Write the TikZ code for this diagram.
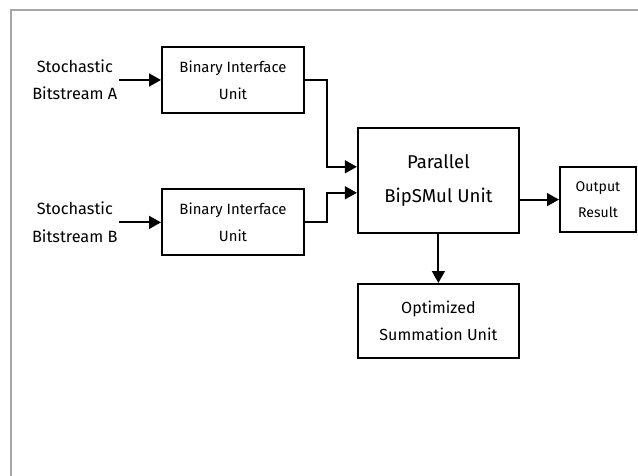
\documentclass[tikz,border=0pt]{standalone}
\usepackage{fontspec}
\setmainfont{Fira Sans}
\usetikzlibrary{arrows.meta,positioning}

\begin{document}
\begin{tikzpicture}[
  box/.style={draw, line width=1.4pt, align=center, font=\fontsize{10.6}{19}\selectfont, inner sep=2pt},
  arr/.style={-{Triangle[length=3mm,width=3.2mm]}, line width=1.4pt}, src/.style={align=center, font=\fontsize{11.6}{19.5}\selectfont, inner sep=1pt}]
\useasboundingbox (0,0) rectangle (15.95,-11.9);
\draw[gray!70, line width=1pt] (15.95,-0.25) -- (0.275,-0.25) -- (0.275,-11.9);
\node[box, minimum width=3.55cm, minimum height=1.65cm] (biuA) at (5.825,-2.0) {Binary Interface\\Unit};
\node[box, minimum width=3.55cm, minimum height=1.65cm] (biuB) at (5.825,-5.56) {Binary Interface\\Unit};
\node[src] (inA) at (1.87,-2.0) {Stochastic\\Bitstream A};
\node[src] (inB) at (1.87,-5.56) {Stochastic\\Bitstream B};
\node[box, minimum width=4.025cm, minimum height=2.625cm, font=\fontsize{13.2}{24}\selectfont] (par) at (10.96,-4.51) {Parallel\\BipSMul Unit};
\node[box, minimum width=1.9cm, minimum height=1.625cm, font=\fontsize{10}{19}\selectfont] (out) at (14.95,-4.99) {Output\\Result};
\node[box, minimum width=4.025cm, minimum height=1.85cm, font=\fontsize{11.4}{19}\selectfont] (sum) at (10.96,-8.025) {Optimized\\Summation Unit};
\draw[arr] (inA) -- (biuA);
\draw[arr] (inB) -- (biuB);
\draw[arr] (biuA.east) -- ++(0.55,0) |- ([yshift=3.4mm]par.west);
\draw[arr] (biuB.east) -- ++(0.55,0) |- ([yshift=-3.1mm]par.west);
\draw[arr] (par.east |- out.west) -- (out.west);
\draw[arr] (par) -- (sum);
\end{tikzpicture}
\end{document}
